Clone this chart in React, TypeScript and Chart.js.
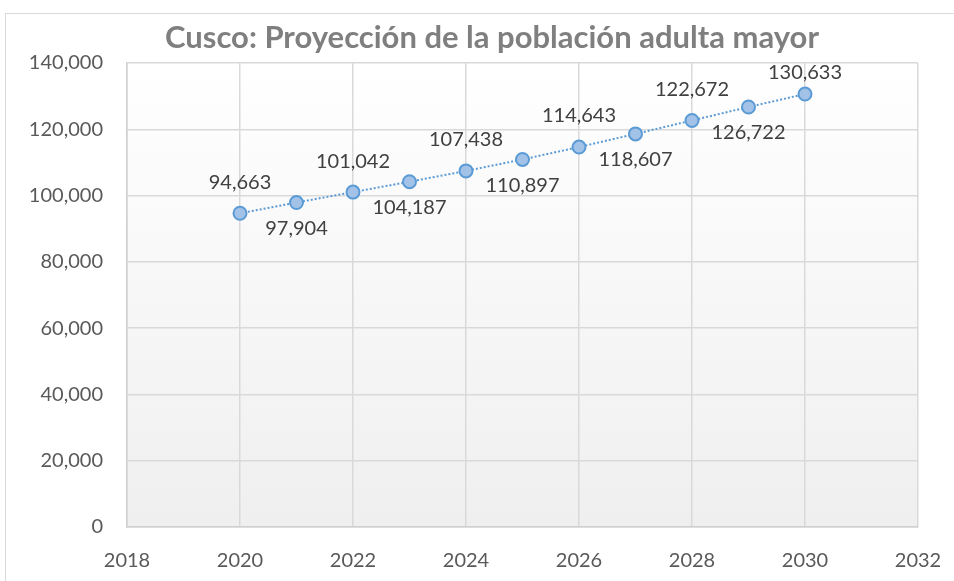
import React, { useEffect, useRef } from "react";
import { Chart, registerables } from "chart.js";

Chart.register(...registerables);

const chartTitle = "Cusco: Proyección de la población adulta mayor";
const years = [2020, 2021, 2022, 2023, 2024, 2025, 2026, 2027, 2028, 2029, 2030];
const poblacion = [94663, 97904, 101042, 104187, 107438, 110897, 114643, 118607, 122672, 126722, 130633];
const labelAbove = [true, false, true, false, true, false, true, false, true, false, true];
const xMin = 2018;
const xMax = 2032;
const xStep = 2;
const yMin = 0;
const yMax = 140000;
const yStep = 20000;

const FONT = "Lato";
const fmt = (v: number) => v.toLocaleString("en-US");

export default function App() {
  const ref = useRef<HTMLCanvasElement>(null);

  useEffect(() => {
    const canvas = ref.current;
    if (!canvas) return;

    const bgPlugin = {
      id: "plotBg",
      beforeDraw(chart: any) {
        const { ctx, chartArea: a } = chart;
        const g = ctx.createLinearGradient(0, a.top, 0, a.bottom);
        g.addColorStop(0, "#ffffff");
        g.addColorStop(1, "#efefef");
        ctx.save();
        ctx.fillStyle = g;
        ctx.fillRect(a.left, a.top, a.right - a.left, a.bottom - a.top);
        ctx.restore();
      },
    };

    const titlePlugin = {
      id: "customTitle",
      afterDraw(chart: any) {
        const { ctx } = chart;
        ctx.save();
        ctx.font = `bold 31px ${FONT}`;
        ctx.fillStyle = "#7f7f7f";
        ctx.textAlign = "center";
        ctx.textBaseline = "middle";
        ctx.fillText(chartTitle, 492, 38);
        ctx.restore();
      },
    };

    const labelPlugin = {
      id: "valueLabels",
      afterDatasetsDraw(chart: any) {
        const { ctx, chartArea } = chart;
        const meta = chart.getDatasetMeta(0);
        ctx.save();
        ctx.font = `20px ${FONT}`;
        ctx.fillStyle = "#404040";
        ctx.textAlign = "center";
        ctx.textBaseline = "middle";
        meta.data.forEach((pt: any, i: number) => {
          const dy = labelAbove[i] ? -31 : 26;
          const y = Math.max(pt.y + dy, chartArea.top + 10);
          ctx.fillText(fmt(poblacion[i]), pt.x, y);
        });
        ctx.restore();
      },
    };

    const chart = new Chart(canvas, {
      type: "line",
      data: {
        datasets: [
          {
            label: "Población adulta mayor",
            data: years.map((y, i) => ({ x: y, y: poblacion[i] })),
            borderColor: "#5b9bd5",
            borderWidth: 2,
            borderDash: [2, 2],
            pointRadius: 6.5,
            pointHoverRadius: 6.5,
            pointBackgroundColor: "#a3c2e8",
            pointBorderColor: "#5b9bd5",
            pointBorderWidth: 2,
            tension: 0,
            fill: false,
          },
        ],
      },
      options: {
        responsive: false,
        animation: false,
        layout: { padding: { left: 0, top: 63, right: 36, bottom: 0 } },
        plugins: {
          legend: { display: false },
          title: { display: false },
          tooltip: { enabled: false },
        },
        scales: {
          x: {
            type: "linear",
            min: xMin,
            max: xMax,
            ticks: {
              stepSize: xStep,
              color: "#595959",
              font: { family: FONT, size: 20 },
              padding: 22,
              callback: (v: any) => String(v),
            },
            grid: { color: "#d9d9d9", lineWidth: 1.5, drawTicks: false },
            border: { color: "#d0d0d0", width: 1.5 },
            afterFit: (s: any) => {
              s.height = 54;
              s.paddingLeft = 0;
              s.paddingRight = 0;
            },
          },
          y: {
            min: yMin,
            max: yMax,
            ticks: {
              stepSize: yStep,
              color: "#595959",
              font: { family: FONT, size: 20 },
              padding: 24,
              callback: (v: any) => fmt(Number(v)),
            },
            grid: { color: "#d9d9d9", lineWidth: 1.5, drawTicks: false },
            border: { color: "#d0d0d0", width: 1.5 },
            afterFit: (s: any) => {
              s.width = 127;
              s.paddingTop = 0;
              s.paddingBottom = 0;
            },
          },
        },
      },
      plugins: [bgPlugin, titlePlugin, labelPlugin],
    });

    return () => chart.destroy();
  }, []);

  return (
    <div
      style={{
        position: "fixed",
        left: 0,
        top: 0,
        width: 954,
        height: 581,
        overflow: "hidden",
        background: "#ffffff",
      }}
    >
      <div
        style={{
          position: "absolute",
          left: 5,
          top: 13,
          width: 1000,
          height: 700,
          border: "1px solid #d9d9d9",
        }}
      />
      <canvas
        ref={ref}
        width={954}
        height={581}
        style={{ position: "absolute", left: 0, top: 0, display: "block" }}
      />
    </div>
  );
}
